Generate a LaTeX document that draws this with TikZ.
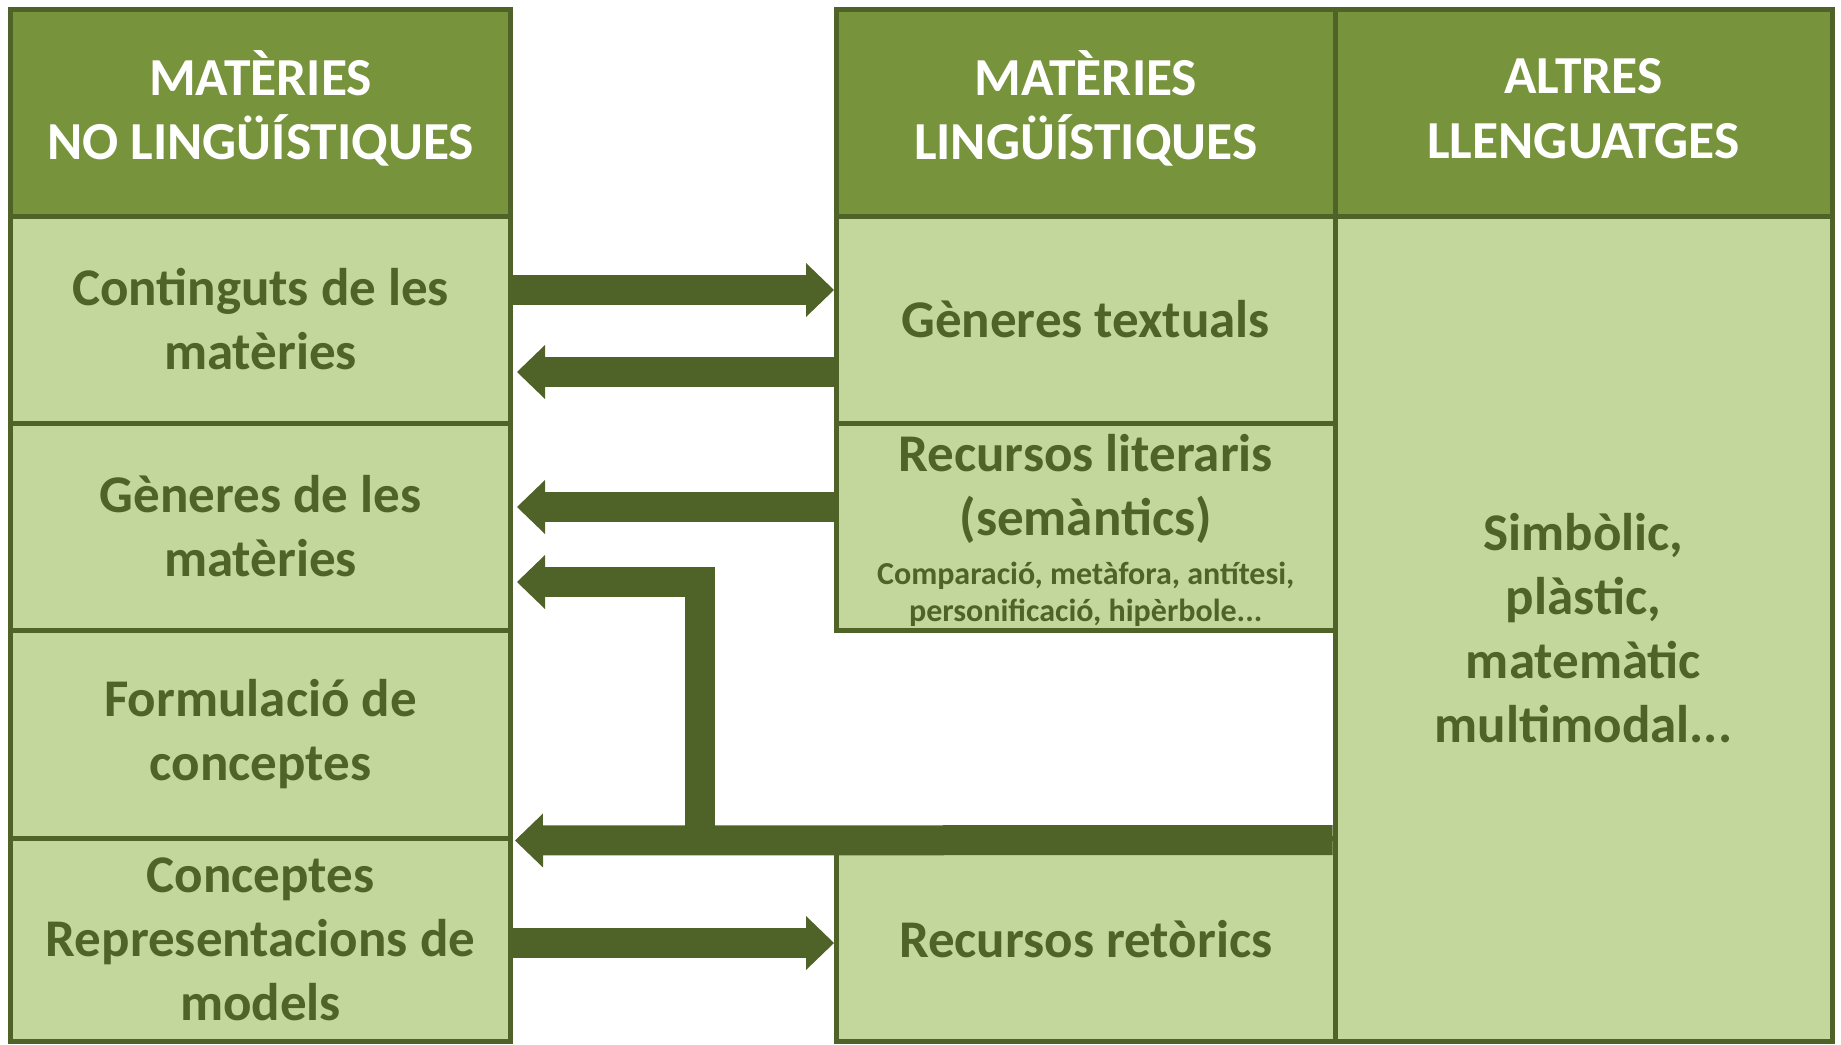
\documentclass[tikz,border=0pt]{standalone}
\usepackage{fontspec}
\setmainfont{Carlito}
\usetikzlibrary{arrows.meta}
\definecolor{dk}{HTML}{4F6228}
\definecolor{hd}{HTML}{77933C}
\definecolor{lt}{HTML}{C3D69B}
\tikzset{
  cell/.style={draw=dk, line width=5pt, fill=lt, text=dk, inner sep=0pt, align=center,
    font=\fontsize{53}{64}\selectfont\bfseries},
  headcell/.style={draw=dk, line width=5pt, fill=hd, inner sep=0pt},
  headtxt/.style={text=white, align=center, font=\fontsize{53.5}{64.5}\selectfont\bfseries},
  bigarrow/.style={draw=dk, line width=30pt, line join=miter,
    -{Triangle[width=54pt,length=28pt,line width=0pt]}},
  smalltxt/.style={text=dk, align=center, font=\fontsize{32}{37}\selectfont\bfseries},
  midtxt/.style={text=dk, align=center, font=\fontsize{53}{64}\selectfont\bfseries}
}
\begin{document}
\begin{tikzpicture}[x=1pt,y=-1pt]
\useasboundingbox (0,0) rectangle (1841,1044);
% left column
\node[headcell, minimum width=500pt, minimum height=207pt] (lh) at (260.5,112.5) {};
\node[headtxt] (lht) at (260.5,108.5) {MATÈRIES\\NO LINGÜÍSTIQUES};
\node[cell, minimum width=500pt, minimum height=207pt] (ca) at (260.5,319.5) {Continguts de les\\matèries};
\node[cell, minimum width=500pt, minimum height=207pt] (gm) at (260.5,526.5) {Gèneres de les\\matèries};
\node[cell, minimum width=500pt, minimum height=208pt] (fc) at (260.5,734) {Formulació de\\conceptes};
\node[cell, minimum width=500pt, minimum height=203pt] (cr) at (260.5,939.5) {Conceptes\\Representacions de\\models};
% middle column
\node[headcell, minimum width=498.5pt, minimum height=207pt] (mh) at (1085.75,112.5) {};
\node[headtxt] (mht) at (1085.75,108.5) {MATÈRIES\\LINGÜÍSTIQUES};
\node[cell, minimum width=498.5pt, minimum height=207pt] (gt) at (1085.75,319.5) {Gèneres textuals};
\node[cell, minimum width=498.5pt, minimum height=207pt] (rl) at (1085.75,526.5) {};
\node[midtxt] (rlt) at (1085.75,489) {Recursos literaris\\(semàntics)};
\node[smalltxt] (rls) at (1085.75,594) {Comparació, metàfora, antítesi,\\personificació, hipèrbole...};
\node[cell, minimum width=498.5pt, minimum height=203pt] (rr) at (1085.75,939.5) {Recursos retòrics};
% right column
\node[headcell, minimum width=497pt, minimum height=207pt] (rh) at (1583.5,112.5) {};
\node[headtxt] (rht) at (1583.5,108.5) {ALTRES\\LLENGUATGES};
\node[cell, minimum width=497pt, minimum height=825pt] (rs) at (1583.5,628.5) {Simbòlic,\\plàstic,\\matemàtic\\multimodal...};
% arrows
\draw[bigarrow] (ca.east |- 0,290) -- (gt.west |- 0,290);
\draw[bigarrow] ([xshift=3pt]gt.west |- 0,372) -- ([xshift=4pt]ca.east |- 0,372);
\draw[bigarrow] ([xshift=3pt]rl.west |- 0,507) -- ([xshift=4pt]gm.east |- 0,507);
\draw[bigarrow] (rs.west |- 0,840) -- ([xshift=2pt]fc.south east);
\coordinate (elb) at (700,840);
\draw[bigarrow] (elb) -- (700,582) -- ([xshift=4pt]gm.east |- 0,582);
\draw[bigarrow] (cr.east |- 0,943) -- (rr.west |- 0,943);
\end{tikzpicture}
\end{document}
